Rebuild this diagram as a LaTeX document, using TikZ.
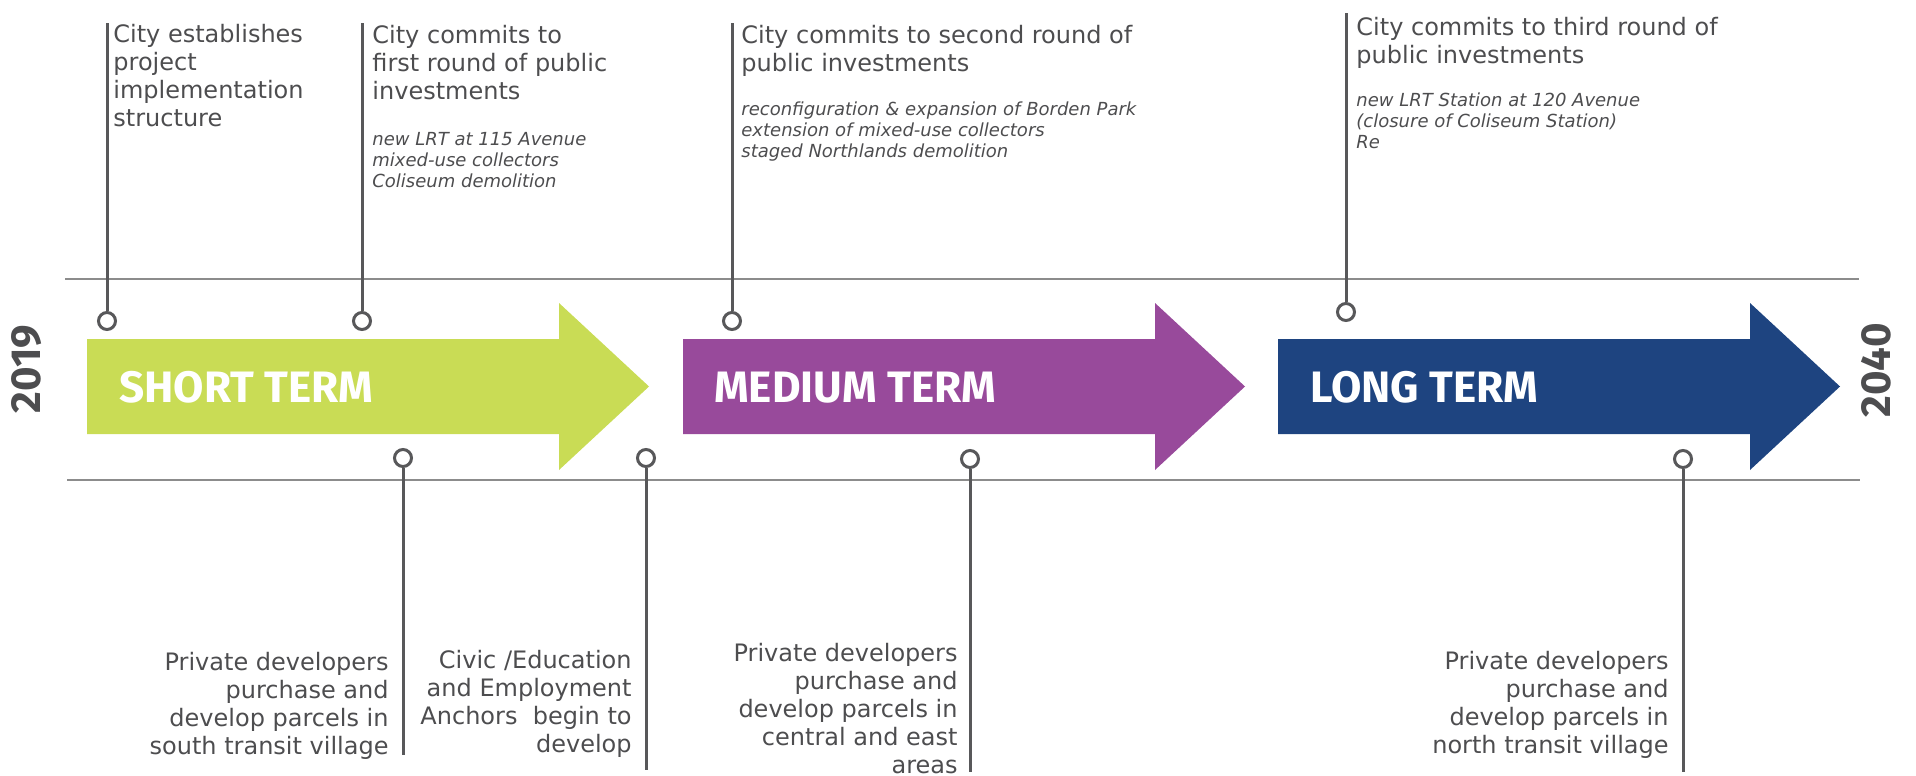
\documentclass[tikz,border=0pt]{standalone}
\usepackage{fontspec}
\setmainfont{DejaVu Sans}
\newfontfamily\termfont{Fira Sans}
\usetikzlibrary{positioning}
\definecolor{txtgrey}{HTML}{4D4D4F}
\definecolor{pingrey}{HTML}{58585A}
\definecolor{rulegrey}{HTML}{8C8C8C}
\definecolor{shortgreen}{HTML}{C9DC55}
\definecolor{midpurple}{HTML}{984A9B}
\definecolor{longblue}{HTML}{1E4480}
\tikzset{
  pin/.style={circle, draw=pingrey, line width=1.5pt, fill=white, minimum size=8.5pt, inner sep=0pt},
  pinline/.style={pingrey, line width=1.5pt},
  rule/.style={rulegrey, line width=1pt},
  toplab/.style={anchor=base west, align=left, inner sep=0pt, text=txtgrey, font=\fontsize{12}{14}\selectfont},
  notes/.style={anchor=base west, align=left, inner sep=0pt, text=txtgrey, font=\itshape\fontsize{9}{10.5}\selectfont},
  botlab/.style={anchor=base east, align=right, inner sep=0pt, text=txtgrey, font=\fontsize{12}{14}\selectfont},
  term/.style={anchor=base west, inner sep=0pt, text=white, font=\termfont\bfseries\fontsize{22}{22}\selectfont},
  year/.style={rotate=90, inner sep=0pt, text=txtgrey, font=\termfont\bfseries\fontsize{21}{21}\selectfont}
}
\begin{document}
\begin{tikzpicture}[x=0.5pt, y=-0.5pt]
	\useasboundingbox (0,0) rectangle (1916,776);
	
	% guide rules
	\coordinate (rtl) at (65,279);  \coordinate (rtr) at (1859,279);
	\coordinate (rbl) at (67,480);  \coordinate (rbr) at (1860,480);
	\draw[rule] (rtl) -- (rtr);
	\draw[rule] (rbl) -- (rbr);
	
	% the three term arrows
	\fill[shortgreen] (87,339) -- (559,339) -- (559,303) -- (649,386.5) -- (559,470) -- (559,434) -- (87,434) -- cycle;
	\fill[midpurple] (683,339) -- (1155,339) -- (1155,303) -- (1245,386.5) -- (1155,470) -- (1155,434) -- (683,434) -- cycle;
	\fill[longblue] (1278,339) -- (1750,339) -- (1750,303) -- (1840,386.5) -- (1750,470) -- (1750,434) -- (1278,434) -- cycle;
	
	\node(short) [term] at (119,402) {SHORT TERM};
	\node(medium) [term] at (714,402) {MEDIUM TERM};
	\node(long) [term] at (1310,402) {LONG TERM};
	
	\node(start) [year] at (27,369) {2019};
	\node(end) [year] at (1876,370) {2040};
	
	% city milestones (above)
	\coordinate (t1) at (107,23);
	\coordinate (t2) at (362,23);
	\coordinate (t3) at (732,23);
	\coordinate (t4) at (1346,13);
	\node(c1) [pin] at (107,321) {};
	\node(c2) [pin] at (362,321) {};
	\node(c3) [pin] at (732,321) {};
	\node(c4) [pin] at (1346,312) {};
	\draw[pinline] (t1) -- (c1.north);
	\draw[pinline] (t2) -- (c2.north);
	\draw[pinline] (t3) -- (c3.north);
	\draw[pinline] (t4) -- (c4.north);
	
	% base = last line of each text
	\node(l1) [toplab] at (113,126) {City establishes\\project\\implementation\\structure};
	\node(l2) [toplab] at (372,99) {City commits to\\first round of public\\investments};
	\node(n2) [notes] at (372,187) {new LRT at 115 Avenue\\mixed-use collectors\\Coliseum demolition};
	\node(l3) [toplab] at (741,71) {City commits to second round of\\public investments};
	\node(n3) [notes] at (741,157) {reconfiguration \& expansion of Borden Park\\extension of mixed-use collectors\\staged Northlands demolition};
	\node(l4) [toplab] at (1356,63) {City commits to third round of\\public investments};
	\node(n4) [notes] at (1356,148) {new LRT Station at 120 Avenue\\(closure of Coliseum Station)\\Re};
	
	% private / anchor milestones (below)
	\node(d1) [pin] at (403,458) {};
	\node(d2) [pin] at (646,458) {};
	\node(d3) [pin] at (970,459) {};
	\node(d4) [pin] at (1683,459) {};
	\coordinate (b1) at (403,755);
	\coordinate (b2) at (646,770);
	\coordinate (b3) at (970,772);
	\coordinate (b4) at (1683,772);
	\draw[pinline] (d1.south) -- (b1);
	\draw[pinline] (d2.south) -- (b2);
	\draw[pinline] (d3.south) -- (b3);
	\draw[pinline] (d4.south) -- (b4);
	
	\node(p1) [botlab] at (389,754) {Private developers\\purchase and\\develop parcels in\\south transit village};
	\node(p2) [botlab] at (632,752) {Civic /Education\\and Employment\\Anchors~ begin to\\develop};
	\node(p3) [botlab] at (958,773) {Private developers\\purchase and\\develop parcels in\\central and east\\areas};
	\node(p4) [botlab] at (1669,753) {Private developers\\purchase and\\develop parcels in\\north transit village};
\end{tikzpicture}
\end{document}
